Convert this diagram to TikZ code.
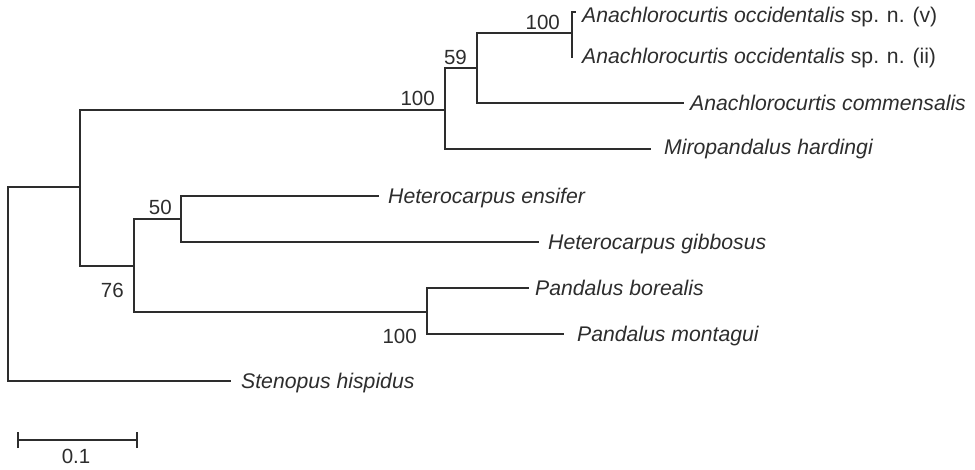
\documentclass[tikz,border=0pt]{standalone}
\usepackage{fontspec}
\setmainfont{Liberation Sans}
\definecolor{ink}{RGB}{45,45,45}
\begin{document}
\begin{tikzpicture}[x=1pt,y=-1pt,
  branch/.style={draw=ink,line width=1.9pt,line cap=rect},
  taxon/.style={anchor=base west,inner sep=0pt,text=ink,font=\fontsize{21.2}{24}\selectfont\itshape},
  support/.style={anchor=base east,inner sep=0pt,text=ink,font=\fontsize{20.5}{24}\selectfont}]
\useasboundingbox (0,0) rectangle (975,469);
% internal nodes
\coordinate (r) at (8,284);
\coordinate (nA) at (80,187);
\coordinate (nB) at (445,110);
\coordinate (n59) at (477,68);
\coordinate (nT) at (572,33);
\coordinate (nC) at (134,266);
\coordinate (n50) at (181,219);
\coordinate (nP) at (427,312);
% tips
\coordinate (occV) at (575,12);
\coordinate (occII) at (572,57);
\coordinate (comm) at (683,103);
\coordinate (miro) at (650,149);
\coordinate (ens) at (378,196);
\coordinate (gib) at (538,242);
\coordinate (bor) at (528,288);
\coordinate (mon) at (563,334);
\coordinate (ste) at (230,381);
% branches
\draw[branch] (r) |- (nA);
\draw[branch] (r) |- (ste);
\draw[branch] (nA) |- (nB);
\draw[branch] (nA) |- (nC);
\draw[branch] (nB) |- (n59);
\draw[branch] (nB) |- (miro);
\draw[branch] (n59) |- (nT);
\draw[branch] (n59) |- (comm);
\draw[branch] (nT) |- (occV);
\draw[branch] (nT) |- (occII);
\draw[branch] (nC) |- (n50);
\draw[branch] (nC) |- (nP);
\draw[branch] (n50) |- (ens);
\draw[branch] (n50) |- (gib);
\draw[branch] (nP) |- (bor);
\draw[branch] (nP) |- (mon);
% taxon labels
\node[taxon] (tOccV) at (582,22) {Anachlorocurtis occidentalis\upshape{} sp. n. (v)};
\node[taxon] (tOccII) at (582,63) {Anachlorocurtis occidentalis\upshape{} sp. n. (ii)};
\node[taxon] (tComm) at (690,110) {Anachlorocurtis commensalis};
\node[taxon] (tMiro) at (664,154) {Miropandalus hardingi};
\node[taxon] (tEns) at (388,203) {Heterocarpus ensifer};
\node[taxon] (tGib) at (548,249) {Heterocarpus gibbosus};
\node[taxon] (tBor) at (535,295) {Pandalus borealis};
\node[taxon] (tMon) at (577,341) {Pandalus montagui};
\node[taxon] (tSte) at (241,388) {Stenopus hispidus};
% support values
\node[support] (s100a) at (560,29) {100};
\node[support] (s59) at (467,64) {59};
\node[support] (s100b) at (435,105) {100};
\node[support] (s50) at (172,214) {50};
\node[support] (s76) at (124,297) {76};
\node[support] (s100c) at (417,343) {100};
% scale bar
\coordinate (sbL) at (18,440);
\coordinate (sbR) at (137,440);
\draw[branch,line cap=butt] (sbL) -- (sbR);
\draw[branch,line cap=butt] ([yshift=-8]sbL) -- ([yshift=8]sbL);
\draw[branch,line cap=butt] ([yshift=-8]sbR) -- ([yshift=8]sbR);
\node[anchor=base,inner sep=0pt,text=ink,font=\fontsize{20.5}{24}\selectfont] (sbT) at (76,463) {0.1};
\end{tikzpicture}
\end{document}
